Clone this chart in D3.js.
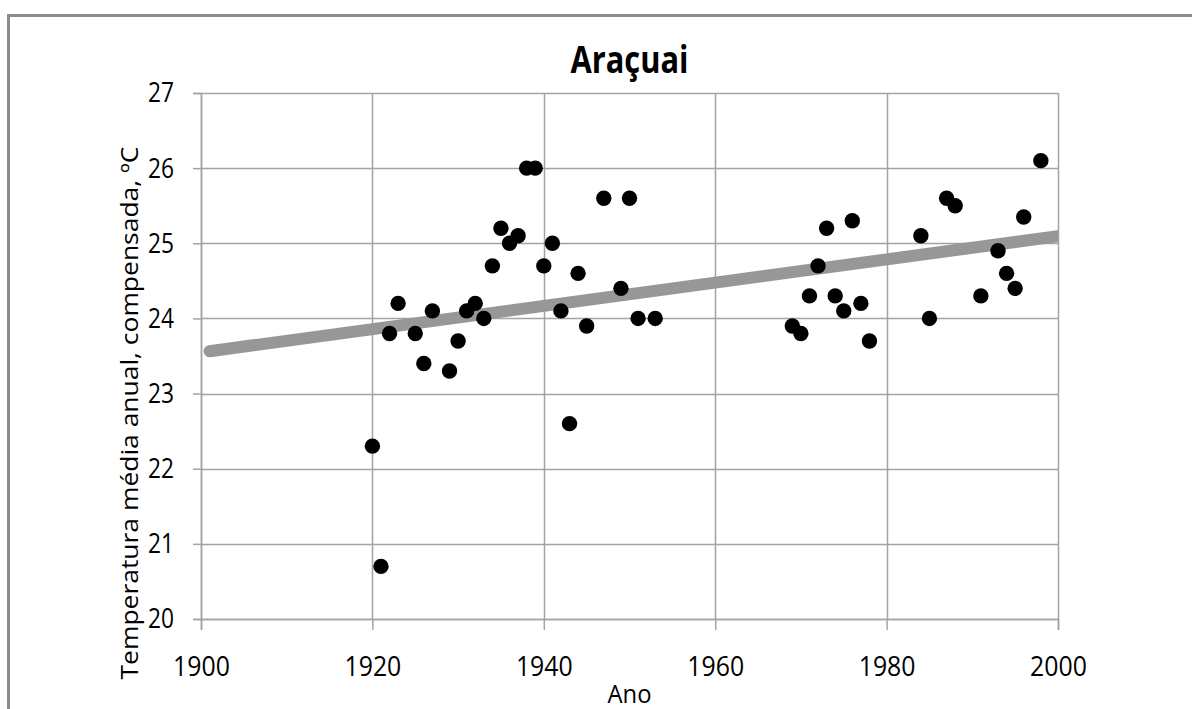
<!DOCTYPE html>
<html>
<head>
<meta charset="utf-8">
<script src="https://cdn.jsdelivr.net/npm/d3@7"></script>
<style>
  body { margin: 0; background: #fff; }
  svg text { font-family: "Open Sans", sans-serif; fill: #000; }
</style>
</head>
<body>
<script>
// Data
const years = [1920, 1921, 1922, 1923, 1925, 1926, 1927, 1929, 1930, 1931, 1932, 1933, 1934, 1935,
  1936, 1937, 1938, 1939, 1940, 1941, 1942, 1943, 1944, 1945, 1947, 1949, 1950, 1951, 1953,
  1969, 1970, 1971, 1972, 1973, 1974, 1975, 1976, 1977, 1978, 1984, 1985, 1987, 1988, 1991,
  1993, 1994, 1995, 1996, 1998];
const temps = [22.3, 20.7, 23.8, 24.2, 23.8, 23.4, 24.1, 23.3, 23.7, 24.1, 24.2, 24.0, 24.7, 25.2,
  25.0, 25.1, 26.0, 26.0, 24.7, 25.0, 24.1, 22.6, 24.6, 23.9, 25.6, 24.4, 25.6, 24.0, 24.0,
  23.9, 23.8, 24.3, 24.7, 25.2, 24.3, 24.1, 25.3, 24.2, 23.7, 25.1, 24.0, 25.6, 25.5, 24.3,
  24.9, 24.6, 24.4, 25.35, 26.1];
const xTicks = [1900, 1920, 1940, 1960, 1980, 2000];
const yTicks = [20, 21, 22, 23, 24, 25, 26, 27];
const trendYears = [1901, 2000];

const title = "Araçuai";
const xTitle = "Ano";
const yTitle = "Temperatura média anual, compensada, ºC";

// Layout
const W = 1192, H = 709;
const margin = { top: 93, right: 134, bottom: 90, left: 201 };
const iw = W - margin.left - margin.right;
const ih = H - margin.top - margin.bottom;

const svg = d3.select("body").append("svg")
  .attr("width", W)
  .attr("height", H);

// outer chart frame (runs off the right and bottom edges)
svg.append("rect")
  .attr("x", 8.5).attr("y", 15.5)
  .attr("width", W + 20).attr("height", H + 20)
  .attr("fill", "#fff")
  .attr("stroke", "#8c8c8c")
  .attr("stroke-width", 3);

const g = svg.append("g").attr("transform", `translate(${margin.left},${margin.top})`);

// Scales
const x = d3.scaleLinear().domain([1900, 2000]).range([0, iw]);
const y = d3.scaleLinear().domain([20, 27]).range([ih, 0]);

const gridColor = "#a3a3a3";

// Gridlines
g.append("g")
  .selectAll("line.h")
  .data(yTicks)
  .join("line")
  .attr("x1", 0).attr("x2", iw)
  .attr("y1", d => Math.round(y(d)) + 0.5).attr("y2", d => Math.round(y(d)) + 0.5)
  .attr("stroke", gridColor).attr("stroke-width", 1.5);

g.append("g")
  .selectAll("line.v")
  .data(xTicks)
  .join("line")
  .attr("x1", d => Math.round(x(d)) + 0.5).attr("x2", d => Math.round(x(d)) + 0.5)
  .attr("y1", 0).attr("y2", ih)
  .attr("stroke", gridColor).attr("stroke-width", 1.5);

// Axes
const yAxis = g.append("g")
  .call(d3.axisLeft(y).tickValues(yTicks).tickSize(8).tickPadding(19).tickFormat(d3.format("d")));
const xAxis = g.append("g")
  .attr("transform", `translate(0,${ih})`)
  .call(d3.axisBottom(x).tickValues(xTicks).tickSize(11).tickPadding(26).tickFormat(d3.format("d")));

[xAxis, yAxis].forEach(a => {
  a.select(".domain").attr("stroke", gridColor).attr("stroke-width", 1.5);
  a.selectAll(".tick line").attr("stroke", gridColor).attr("stroke-width", 1.5);
  a.selectAll(".tick text")
    .style("font-size", "28px")
    .attr("fill", "#000")
    .attr("textLength", d => String(d).length * 13)
    .attr("lengthAdjust", "spacingAndGlyphs");
});
xAxis.selectAll(".tick text").attr("textLength", d => String(d).length * 14.2);

// Trend line (least squares fit)
const mx = d3.mean(years), my = d3.mean(temps);
const slope = d3.sum(years, (v, i) => (v - mx) * (temps[i] - my)) / d3.sum(years, v => (v - mx) ** 2);
const icpt = my - slope * mx;

svg.append("clipPath").attr("id", "plotClip")
  .append("rect").attr("width", iw).attr("height", ih);

g.append("path")
  .datum(trendYears)
  .attr("clip-path", "url(#plotClip)")
  .attr("d", d3.line().x(d => x(d)).y(d => y(icpt + slope * d)))
  .attr("fill", "none")
  .attr("stroke", "#979797")
  .attr("stroke-width", 12)
  .attr("stroke-linecap", "round");

// Points
g.append("g")
  .selectAll("circle")
  .data(years)
  .join("circle")
  .attr("cx", d => x(d))
  .attr("cy", (d, i) => y(temps[i]))
  .attr("r", 7.7)
  .attr("fill", "#000");

// Title
svg.append("text")
  .attr("x", margin.left + iw / 2)
  .attr("y", 73)
  .attr("text-anchor", "middle")
  .style("font-size", "37px")
  .style("font-weight", "bold")
  .attr("textLength", 118)
  .attr("lengthAdjust", "spacingAndGlyphs")
  .text(title);

// Axis titles
svg.append("text")
  .attr("x", margin.left + iw / 2)
  .attr("y", 703)
  .attr("text-anchor", "middle")
  .style("font-size", "25px")
  .attr("textLength", 44)
  .attr("lengthAdjust", "spacingAndGlyphs")
  .text(xTitle);

svg.append("text")
  .attr("transform", `translate(138,413) rotate(-90)`)
  .attr("text-anchor", "middle")
  .style("font-size", "24px")
  .attr("textLength", 533)
  .attr("lengthAdjust", "spacingAndGlyphs")
  .text(yTitle);
</script>
</body>
</html>
